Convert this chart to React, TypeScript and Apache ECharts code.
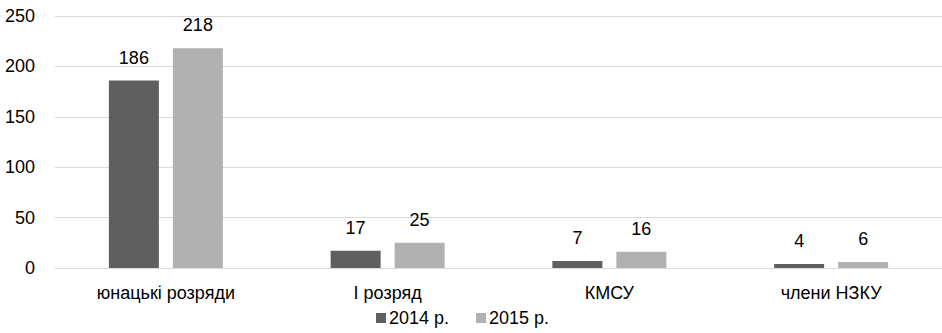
import React, { useEffect, useRef } from "react";
import * as echarts from "echarts";

const categories = ["юнацькі розряди", "І розряд", "КМСУ", "члени НЗКУ"];
const series2014 = [186, 17, 7, 4];
const series2015 = [218, 25, 16, 6];
const seriesNames = ["2014 р.", "2015 р."];

const FONT = "'Liberation Sans', Arial, sans-serif";

export default function App() {
  const ref = useRef<HTMLDivElement>(null);
  useEffect(() => {
    if (!ref.current) return;
    const chart = echarts.init(ref.current, null, { renderer: "svg" });
    const labelStyle = {
      show: true,
      position: "top" as const,
      distance: 14,
      color: "#000",
      fontSize: 18,
      fontFamily: FONT,
    };
    chart.setOption({
      animation: false,
      backgroundColor: "#fff",
      grid: { left: 55, top: 16, width: 891, height: 252, containLabel: false },
      legend: {
        left: 371,
        top: 304,
        itemWidth: 10,
        itemHeight: 10,
        itemGap: 27,
        icon: "rect",
        textStyle: { color: "#000", fontSize: 18, fontFamily: FONT, padding: [0, 0, 0, -2] },
        data: seriesNames,
      },
      xAxis: {
        type: "category",
        data: categories,
        axisLine: { show: true, lineStyle: { color: "#d9d9d9", width: 1 } },
        axisTick: { show: false },
        axisLabel: { color: "#000", fontSize: 18, fontFamily: FONT, margin: 16, interval: 0 },
      },
      yAxis: {
        type: "value",
        min: 0,
        max: 250,
        interval: 50,
        axisLine: { show: false },
        axisTick: { show: false },
        splitLine: { lineStyle: { color: "#d9d9d9", width: 1 } },
        axisLabel: { color: "#000", fontSize: 18, fontFamily: FONT, margin: 20 },
      },
      series: [
        {
          name: seriesNames[0],
          type: "bar",
          data: series2014,
          barWidth: 50,
          barGap: "28%",
          itemStyle: { color: "#5f5f5f" },
          label: labelStyle,
        },
        {
          name: seriesNames[1],
          type: "bar",
          data: series2015,
          barWidth: 50,
          barGap: "28%",
          itemStyle: { color: "#b1b1b1" },
          label: labelStyle,
        },
      ],
    });
    return () => chart.dispose();
  }, []);
  return (
    <div
      ref={ref}
      style={{ position: "fixed", left: 0, top: 0, width: 942, height: 333, background: "#fff" }}
    />
  );
}
